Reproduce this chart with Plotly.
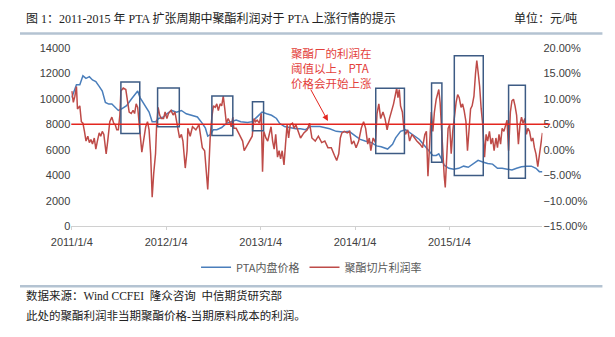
import pandas as pd
import plotly.graph_objects as go

START = pd.Timestamp("2011-01-04")

# PTA 内盘价格 (元/吨): days since 2011-01-04, value
pta_days = [0, 6, 18, 31, 43, 55, 68, 80, 93, 106, 118, 130, 143, 155, 168, 180, 193, 212, 230, 255,
            264, 276, 286, 299, 311, 324, 336, 355, 368, 386, 405, 424, 443, 461, 486, 505, 517, 526, 536, 548,
            561, 580, 598, 617, 636, 654, 680, 698, 717, 736, 754, 773, 792, 804, 823, 848, 867, 885, 904, 923,
            960, 998, 1023, 1048, 1073, 1098, 1116, 1135, 1160, 1179, 1197, 1222, 1241, 1253, 1272, 1291, 1310, 1328, 1345, 1360,
            1379, 1397, 1410, 1420, 1428, 1441, 1459, 1478, 1497, 1516, 1534, 1553, 1572, 1590, 1609, 1628, 1647, 1665, 1684, 1703,
            1721, 1740, 1759, 1778, 1796, 1809, 1821]
pta_price = [10100, 10470, 11100, 11100, 11800, 11600, 11730, 11470, 11350, 10970, 10600, 9710, 9580, 9580, 9330, 9080, 9200, 9460, 9960, 10600,
             10090, 9710, 9460, 8950, 8200, 8200, 8450, 8570, 8820, 9080, 8950, 9080, 8820, 8700, 8570, 8070, 7690, 7060, 7190, 7570,
             7570, 7740, 8070, 8200, 8320, 8200, 8140, 8200, 8570, 8950, 8820, 8700, 8450, 8070, 7820, 7690, 7640, 7640, 7570, 7820,
             7820, 7640, 7440, 7390, 7440, 7060, 6810, 6680, 6550, 6300, 6230, 6050, 6430, 6930, 7440, 7570, 7310, 7060, 6800, 6430,
             5930, 5550, 5550, 5680, 5370, 4790, 4540, 4460, 4540, 4710, 4620, 4920, 5170, 5040, 4920, 4870, 4540, 4540, 4460, 4410,
             4540, 4660, 4710, 4710, 4540, 4280, 4280]

# 聚酯切片利润率 (%): days since 2011-01-04, value
profit_days = [0, 6, 12, 18, 22, 31, 37, 43, 49, 55, 62, 68, 74, 80, 87, 93, 99, 106, 112, 118,
               124, 133, 139, 147, 155, 162, 168, 174, 180, 186, 190, 199, 209, 215, 222, 230, 237, 243, 249, 255,
               259, 264, 271, 280, 286, 293, 299, 305, 311, 317, 324, 328, 334, 340, 346, 355, 361, 368, 374, 384,
               392, 399, 405, 411, 417, 424, 430, 439, 446, 449, 458, 467, 480, 492, 505, 514, 521, 526, 531, 536,
               542, 548, 555, 561, 567, 574, 580, 586, 592, 598, 605, 611, 617, 623, 627, 636, 648, 661, 667, 680,
               692, 698, 705, 711, 717, 726, 733, 738, 743, 751, 758, 763, 771, 777, 783, 789, 796, 802, 808, 814,
               821, 827, 833, 839, 845, 854, 860, 867, 875, 883, 885, 898, 911, 920, 929, 942, 954, 967, 979, 991,
               1004, 1016, 1025, 1033, 1039, 1045, 1054, 1066, 1075, 1083, 1091, 1100, 1110, 1120, 1129, 1137, 1145, 1151, 1157, 1166,
               1175, 1181, 1188, 1195, 1204, 1212, 1220, 1229, 1237, 1245, 1251, 1257, 1262, 1267, 1272, 1279, 1285, 1291, 1300, 1307,
               1316, 1325, 1335, 1347, 1357, 1366, 1372, 1378, 1384, 1391, 1397, 1403, 1410, 1420, 1425, 1430, 1435, 1441, 1445, 1450,
               1456, 1462, 1468, 1474, 1482, 1487, 1493, 1499, 1506, 1512, 1518, 1525, 1531, 1537, 1543, 1549, 1556, 1562, 1567, 1572,
               1578, 1584, 1590, 1597, 1603, 1609, 1616, 1622, 1628, 1634, 1641, 1647, 1653, 1659, 1665, 1672, 1678, 1684, 1690, 1697,
               1703, 1709, 1715, 1721, 1728, 1734, 1740, 1746, 1753, 1759, 1765, 1771, 1778, 1784, 1790, 1796, 1803, 1809, 1815, 1821]
profit_pct = [11.5, 9.3, 10.5, 12.4, 8.0, 8.6, 5.5, 5.2, 3.6, 1.7, 2.65, 1.4, 2.0, 1.1, 2.3, 0.1, 1.7, 3.3, 2.65, 3.6,
              3.0, -0.8, 1.7, 5.5, 6.4, 5.2, 4.9, 3.9, 3.9, 6.8, 11.5, 12.1, 11.8, 9.9, 7.4, 7.1, 7.7, 7.1, 9.0, 8.3,
              5.5, 3.3, -0.5, 3.0, 4.5, 5.5, 3.9, -0.8, -9.3, -4.6, -0.8, 4.5, 8.3, 6.8, 6.1, 6.1, 7.4, 6.1, 7.1, 7.7,
              6.8, 7.4, 5.8, 4.2, 2.3, 3.0, 1.7, -3.6, -0.2, 4.2, 2.65, 4.5, 3.9, 4.9, 0.4, -0.2, -4.6, -7.8, -2.7, 3.0,
              6.4, 8.6, 8.3, 9.0, 7.7, 9.0, 8.6, 10.5, 8.0, 5.2, 6.1, 5.5, 4.5, 6.4, 4.2, 4.2, 3.0, 1.7, -0.2, 1.1,
              2.0, 2.65, 6.1, 5.5, 5.8, 5.2, 7.1, -4.3, 3.6, 2.3, 1.7, 2.65, 4.5, 1.7, 0.1, 3.0, -1.45, -0.2, -1.8, -0.2,
              -3.0, 1.1, 4.9, 2.3, 4.9, 5.2, 4.2, 4.9, 3.9, 2.65, 2.3, 3.3, 3.9, 5.2, 2.3, 1.7, 2.65, 1.4, 1.7, 0.4,
              0.4, -1.1, -2.1, -0.8, 2.3, 3.3, 3.6, 3.3, 3.6, 1.1, 1.7, 0.4, 1.7, 4.2, 5.5, 4.2, 1.1, 2.3, -0.2, 2.3,
              1.4, 7.1, 9.0, 6.1, 7.4, 6.1, 3.9, 6.1, 7.4, 9.0, 10.5, 12.1, 10.2, 11.8, 8.6, 7.4, 4.2, 3.0, 3.9, 1.7,
              3.0, 2.3, 1.7, 1.1, 0.4, 3.0, 3.6, -5.2, -0.2, 7.4, 3.6, 7.4, 9.9, 11.8, 9.3, 4.2, -0.2, -5.2, -7.4, -2.1,
              4.2, 4.9, -0.8, 3.6, 8.0, 9.3, 10.8, 10.2, 8.3, 9.0, 7.7, 5.5, -0.2, 4.9, 8.0, 8.6, 10.5, 14.9, 17.5, 15.3,
              12.4, 8.0, 4.9, -1.45, 3.0, 1.7, 3.6, 1.1, 2.3, -0.2, 2.3, 0.4, 3.0, 1.1, 4.2, 3.6, 4.9, 5.8, -0.2, 7.4,
              9.6, 9.9, 8.6, 6.8, 1.1, 4.9, 6.4, 5.2, 6.1, 3.0, 4.2, 3.6, 1.7, 2.3, 0.4, -0.8, -3.3, -1.45, 1.1, 3.3]

# highlighted periods: (start day, end day, low price, high price)
box_start = [190, 332, 542, 699, 1176, 1392, 1480, 1690]
box_end = [263, 416, 623, 742, 1287, 1432, 1592, 1755]
box_low = [7265, 7795, 7114, 7492, 5699, 5018, 3981, 3754]
box_high = [11320, 10845, 10217, 9763, 10823, 11244, 13365, 11050]

threshold_price = 8000  # = 5% on right axis
tick_dates = ["2011-01-04", "2012-01-04", "2013-01-04", "2014-01-04", "2015-01-04"]
tick_labels = ["2011/1/4", "2012/1/4", "2013/1/4", "2014/1/4", "2015/1/4"]
arrow_day, arrow_price = 991, 8250


def to_date(days):
    return [START + pd.Timedelta(days=d) for d in days]


W, H = 615, 337
def py(px):
    return (H - px) / H

fig = go.Figure()
fig.add_trace(go.Scatter(x=to_date(pta_days), y=pta_price, mode="lines", name="PTA内盘价格",
                         line=dict(color="#4a7ebb", width=1.5)))
fig.add_trace(go.Scatter(x=to_date(profit_days), y=profit_pct, mode="lines", name="聚酯切片利润率",
                         line=dict(color="#be4b48", width=1.5), yaxis="y2"))

shapes = []
for s, e, lo, hi in zip(box_start, box_end, box_low, box_high):
    d0, d1 = to_date([s, e])
    shapes.append(dict(type="rect", xref="x", yref="y", x0=d0, x1=d1, y0=lo, y1=hi,
                       line=dict(color="#3d5b84", width=1.5), fillcolor="rgba(0,0,0,0)"))
shapes.append(dict(type="line", xref="paper", yref="y", x0=53 / W, x1=548 / W,
                   y0=threshold_price, y1=threshold_price, line=dict(color="#e3261f", width=1.5)))
shapes.append(dict(type="line", xref="paper", yref="paper", x0=0, x1=602 / W, y0=py(28.5), y1=py(28.5),
                   line=dict(color="#b4c3d2", width=2.5)))
shapes.append(dict(type="line", xref="paper", yref="paper", x0=0, x1=602 / W, y0=py(290.5), y1=py(290.5),
                   line=dict(color="#b4c3d2", width=2.5)))

cjk_serif = "Liberation Serif, Noto Sans CJK SC"
ann = [
    dict(text="图 1：2011-2015 年 PTA 扩张周期中聚酯利润对于 PTA 上涨行情的提示", xref="paper", yref="paper",
         x=4 / W, y=py(13), xanchor="left", yanchor="middle", showarrow=False,
         font=dict(family=cjk_serif, size=12, color="#222222")),
    dict(text="单位：元/吨", xref="paper", yref="paper", x=578 / W, y=py(13), xanchor="right", yanchor="middle",
         showarrow=False, font=dict(family=cjk_serif, size=12, color="#222222")),
    dict(text="数据来源：Wind CCFEI  隆众咨询  中信期货研究部", xref="paper", yref="paper", x=4 / W, y=py(300),
         xanchor="left", yanchor="middle", showarrow=False, font=dict(family=cjk_serif, size=11.5, color="#222222")),
    dict(text="此处的聚酯利润非当期聚酯价格-当期原料成本的利润。", xref="paper", yref="paper", x=4 / W, y=py(321),
         xanchor="left", yanchor="middle", showarrow=False, font=dict(family=cjk_serif, size=11.5, color="#222222")),
    dict(text="聚酯厂的利润在<br>阈值以上，PTA<br>价格会开始上涨", xref="paper", yref="paper", x=278 / W, y=py(38),
         xanchor="left", yanchor="top", align="left", showarrow=False,
         font=dict(family="Noto Sans CJK SC", size=11.5, color="#e3403a")),
    dict(text="", x=to_date([arrow_day])[0], y=arrow_price, xref="x", yref="y", showarrow=True,
         ax=-18, ay=-33, arrowhead=2, arrowsize=1.2, arrowwidth=1, arrowcolor="#e3261f"),
]

tick_font = dict(family="Liberation Sans", size=11, color="#404040")
fig.update_layout(
    width=W, height=H, margin=dict(l=0, r=0, t=0, b=0),
    paper_bgcolor="white", plot_bgcolor="white",
    shapes=shapes, annotations=ann,
    xaxis=dict(domain=[53 / W, 540 / W], type="date",
               range=[START + pd.Timedelta(days=-2), START + pd.Timedelta(days=1821)],
               tickvals=tick_dates, ticktext=tick_labels, tickangle=0, showgrid=False, showline=True,
               linecolor="#d0d0d0", linewidth=1, ticks="outside", ticklen=3, tickcolor="#d0d0d0",
               tickfont=tick_font, zeroline=False, ticklabelstandoff=3),
    yaxis=dict(domain=[py(228.3), py(43.3)], range=[0, 14000], dtick=2000, showgrid=False,
               showline=False, zeroline=False, tickfont=tick_font, ticks="", tickformat="d"),
    yaxis2=dict(overlaying="y", side="right", range=[-15, 20], dtick=5, tickformat=".2f", ticksuffix="%",
                showgrid=False, showline=False, zeroline=False, tickfont=tick_font, anchor="x"),
    legend=dict(orientation="h", x=0.49, xanchor="center", y=py(271), yanchor="middle",
                font=dict(family="Noto Sans CJK SC", size=11, color="#595959"), itemwidth=30,
                bgcolor="rgba(0,0,0,0)"),
    showlegend=True,
)

fig.write_html("out.html")
